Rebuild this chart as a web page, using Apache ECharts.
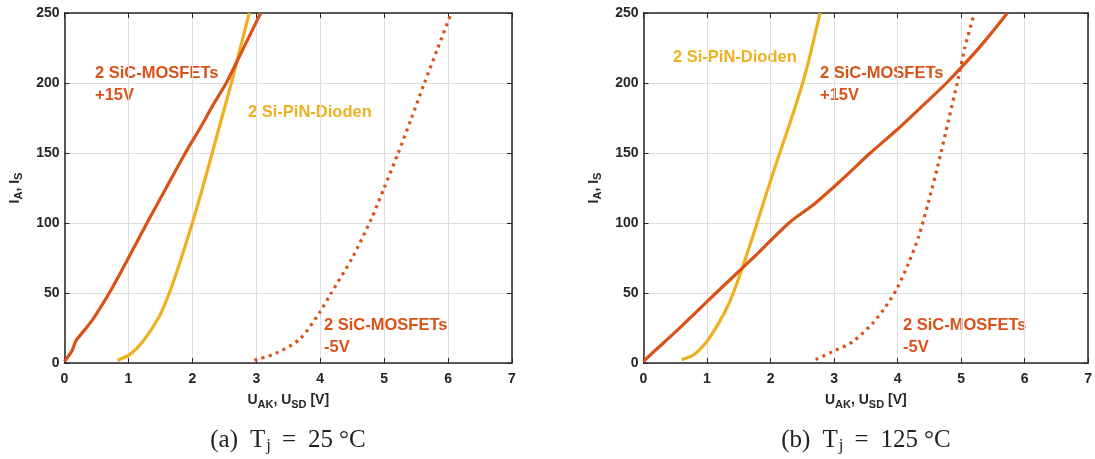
<!DOCTYPE html>
<html>
<head>
<meta charset="utf-8">
<script src="https://cdn.jsdelivr.net/npm/echarts@6/dist/echarts.min.js"></script>
<style>
	html, body { margin: 0; padding: 0; background: #fff; }
	#chart { width: 1095px; height: 459px; }
</style>
</head>
<body>
<div id="chart"></div>
<script>
// Kennlinien, Werte: [U in V, I in A]
var mos15_25 = [[0, 1], [0.03, 3], [0.12, 9], [0.18, 16], [0.25, 20], [0.44, 31], [0.7, 50], [1.0, 75], [1.29, 100], [1.59, 125], [1.89, 150], [2.15, 170], [2.32, 184], [2.53, 200], [2.79, 224], [3.07, 250]];
var diode_25 = [[0.83, 2], [1.02, 6], [1.22, 15], [1.48, 33], [1.64, 50], [1.82, 74], [2.0, 100], [2.16, 125], [2.31, 150], [2.46, 175], [2.61, 200], [2.75, 225], [2.89, 250]];
var mos5_25 = [[2.97, 2], [3.31, 7], [3.68, 17], [3.99, 36], [4.16, 49], [4.5, 75], [4.8, 103], [5.0, 125], [5.22, 150], [5.42, 174], [5.63, 200], [5.84, 225], [6.05, 250]];

var mos15_125 = [[0, 1], [0.03, 2.4], [0.16, 8], [0.5, 22], [0.82, 36], [1.14, 50], [1.7, 74], [2.29, 100], [2.7, 114], [3.1, 130], [3.57, 150], [4.0, 167], [4.4, 184], [4.77, 200], [5.3, 226], [5.73, 250]];
var diode_125 = [[0.6, 2.4], [0.78, 5.5], [0.99, 15], [1.19, 29], [1.35, 43], [1.51, 62], [1.71, 89], [1.92, 119], [2.13, 148], [2.34, 176], [2.55, 207], [2.78, 250]];
var mos5_125 = [[2.71, 2.4], [2.97, 8], [3.29, 15], [3.6, 28], [3.81, 40], [4.0, 54], [4.17, 71], [4.33, 90], [4.48, 114], [4.64, 142], [4.8, 173], [4.95, 202], [5.06, 225.5], [5.21, 250]];

var xTicks = [0, 1, 2, 3, 4, 5, 6, 7];
var yTicks = [0, 50, 100, 150, 200, 250];

var ORANGE = '#D95319';
var YELLOW = '#EDB120';
var AXIS = '#262626';
var FONT = '"Liberation Sans", Arial, sans-serif';

var chart = echarts.init(document.getElementById('chart'));

function xAxis(grid, pos) {
	var main = pos == 'bottom';
	return {
		type: 'value', gridIndex: grid, position: pos,
		min: xTicks[0], max: xTicks[xTicks.length - 1], interval: 1,
		axisLine: { show: true, onZero: false, lineStyle: { color: AXIS, width: 1.5 } },
		axisTick: { show: true, inside: true, length: 5, lineStyle: { color: AXIS } },
		axisLabel: { show: main, margin: 9, color: AXIS, fontFamily: FONT, fontWeight: 'bold', fontSize: 14 },
		splitLine: { show: main, lineStyle: { color: '#dedede', width: 1 } },
		name: main ? '{m|U}{s|AK}{m|, U}{s|SD}{m| [V]}' : '',
		nameLocation: 'middle', nameGap: 28,
		nameTextStyle: {
			rich: {
				m: { fontFamily: FONT, fontWeight: 'bold', fontSize: 14, color: AXIS },
				s: { fontFamily: FONT, fontWeight: 'bold', fontSize: 11, color: AXIS, padding: [8, 0, 0, 0] }
			}
		}
	};
}

function yAxis(grid, pos) {
	var main = pos == 'left';
	return {
		type: 'value', gridIndex: grid, position: pos,
		min: yTicks[0], max: yTicks[yTicks.length - 1], interval: 50,
		axisLine: { show: true, onZero: false, lineStyle: { color: AXIS, width: 1.5 } },
		axisTick: { show: true, inside: true, length: 5, lineStyle: { color: AXIS } },
		axisLabel: { show: main, margin: 5, color: AXIS, fontFamily: FONT, fontWeight: 'bold', fontSize: 14 },
		splitLine: { show: main, lineStyle: { color: '#dedede', width: 1 } },
		name: main ? '{m|I}{s|A}{m|, I}{s|S}' : '',
		nameLocation: 'middle', nameGap: 40, nameRotate: 90,
		nameTextStyle: {
			rich: {
				m: { fontFamily: FONT, fontWeight: 'bold', fontSize: 14, color: AXIS },
				s: { fontFamily: FONT, fontWeight: 'bold', fontSize: 11, color: AXIS, padding: [8, 0, 0, 0] }
			}
		}
	};
}

function line(data, xi, yi, color, dotted) {
	return {
		type: 'line', xAxisIndex: xi, yAxisIndex: yi, data: data,
		showSymbol: false, smooth: 0.25, z: dotted ? 3 : 4,
		lineStyle: { color: color, width: 3.2, type: dotted ? [3, 4.5] : 'solid', cap: 'butt' }
	};
}

function label(x, y, lines, color) {
	return {
		type: 'text', left: x, top: y,
		style: { text: lines, fill: color, font: 'bold 16.5px ' + FONT, lineHeight: 22 }
	};
}

function caption(cx, letter, temp) {
	var serif = '"Liberation Serif", serif';
	return {
		type: 'text', x: cx, y: 440,
		style: {
			text: '{r|(' + letter + ')}{t|T}{j|j}{e|=}{r|' + temp + '}{r|°C}',
			align: 'center', verticalAlign: 'middle',
			rich: {
				r: { fontFamily: serif, fontSize: 25, fill: '#222', padding: [0, 3, 0, 3] },
				t: { fontFamily: serif, fontSize: 25, fill: '#222', padding: [0, 0, 0, 9] },
				j: { fontFamily: serif, fontSize: 17, fill: '#222', padding: [11, 2, 0, 1] },
				e: { fontFamily: serif, fontSize: 25, fill: '#222', padding: [0, 9, 0, 9] }
			}
		}
	};
}

var option = {
	animation: false,
	grid: [
		{ left: 64.5, top: 13, width: 447.5, height: 350 },
		{ left: 643.5, top: 13, width: 447, height: 350 }
	],
	xAxis: [xAxis(0, 'bottom'), xAxis(0, 'top'), xAxis(1, 'bottom'), xAxis(1, 'top')],
	yAxis: [yAxis(0, 'left'), yAxis(0, 'right'), yAxis(1, 'left'), yAxis(1, 'right')],
	series: [
		line(mos5_25, 0, 0, ORANGE, true),
		line(diode_25, 0, 0, YELLOW, false),
		line(mos15_25, 0, 0, ORANGE, false),
		line(mos5_125, 2, 2, ORANGE, true),
		line(diode_125, 2, 2, YELLOW, false),
		line(mos15_125, 2, 2, ORANGE, false)
	],
	graphic: [
		label(95, 62, '2 SiC-MOSFETs\n+15V', ORANGE),
		label(248, 101, '2 Si-PiN-Dioden', YELLOW),
		label(324, 314, '2 SiC-MOSFETs\n-5V', ORANGE),
		label(673, 46, '2 Si-PiN-Dioden', YELLOW),
		label(820, 62, '2 SiC-MOSFETs\n+15V', ORANGE),
		label(903, 314, '2 SiC-MOSFETs\n-5V', ORANGE),
		caption(288, 'a', '25'),
		caption(866, 'b', '125')
	]
};
chart.setOption(option);
</script>
</body>
</html>
